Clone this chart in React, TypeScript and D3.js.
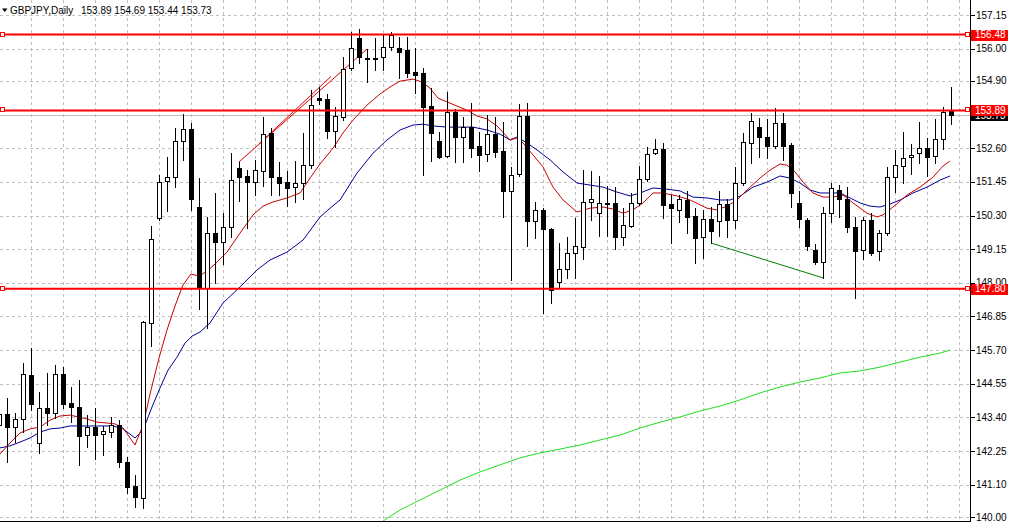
import React from 'react';
import * as d3 from 'd3';

const W = 1012;
const H = 522;
const PLOT_R = 970;
const PLOT_B = 521;

const symbolTitle = 'GBPJPY,Daily';

// bar numbers start at -1 (partially visible bar at the left edge)
const firstBar = -1;

const opens = [
  143.14, 143.51, 143.07, 143.34, 144.85, 142.53, 143.72, 143.55, 144.88, 143.89,
  143.75, 142.80, 143.07, 142.84, 142.90, 143.14, 141.88, 141.06, 140.65, 146.63,
  150.21, 151.48, 151.61, 152.85, 153.26, 150.59, 147.83, 149.70, 149.39, 149.91,
  151.92, 151.65, 151.44, 151.82, 153.12, 151.61, 151.44, 151.27, 151.41, 152.03,
  154.32, 154.28, 153.19, 153.66, 155.34, 156.36, 155.68, 155.68, 155.71, 156.06,
  156.02, 155.95, 155.20, 155.17, 154.04, 152.85, 152.33, 153.83, 152.98, 153.32,
  152.68, 152.40, 153.08, 152.51, 151.14, 151.72, 153.70, 150.11, 150.49, 149.84,
  148.03, 148.47, 149.02, 149.22, 150.76, 150.39, 150.73, 150.73, 149.56, 149.94,
  150.73, 151.55, 152.44, 152.57, 150.69, 150.49, 150.83, 150.28, 149.56, 150.18,
  150.11, 150.69, 150.15, 151.41, 152.78, 153.32, 152.98, 152.68, 153.46, 152.71,
  150.73, 150.15, 149.12, 148.71, 150.39, 151.17, 150.86, 149.91, 149.12, 150.15,
  149.09, 149.70, 151.61, 152.00, 152.30, 152.44, 152.61, 152.33, 152.91, 153.89,
];
const highs = [
  143.83, 144.07, 143.55, 145.26, 145.77, 144.27, 144.92, 145.19, 145.12, 144.44,
  144.68, 143.48, 143.72, 143.11, 143.41, 143.31, 142.05, 141.43, 146.70, 149.94,
  151.68, 152.30, 153.29, 153.77, 153.46, 151.58, 150.25, 151.07, 150.39, 152.43,
  152.13, 151.86, 152.20, 153.66, 153.29, 152.13, 151.82, 152.16, 153.12, 154.59,
  154.69, 154.45, 154.01, 155.71, 156.57, 156.67, 155.99, 156.36, 156.47, 156.57,
  156.40, 156.40, 156.02, 155.34, 154.66, 153.15, 154.52, 153.94, 153.66, 154.14,
  153.15, 153.73, 153.66, 153.49, 151.96, 154.11, 154.14, 150.76, 150.56, 149.87,
  149.36, 149.56, 150.21, 151.86, 151.82, 151.65, 151.31, 151.27, 150.56, 151.07,
  151.99, 152.64, 152.91, 152.78, 151.00, 151.00, 151.14, 150.56, 150.49, 150.59,
  151.14, 150.86, 151.96, 153.12, 153.80, 153.63, 153.60, 153.97, 153.80, 152.78,
  151.14, 150.21, 149.33, 150.59, 151.41, 151.34, 151.27, 150.25, 150.25, 150.39,
  149.81, 151.96, 152.54, 153.15, 152.74, 153.49, 152.95, 153.60, 154.01, 154.69,
];
const lows = [
  142.90, 141.88, 142.56, 142.90, 143.65, 142.19, 143.14, 143.38, 143.72, 143.24,
  141.78, 142.39, 141.98, 142.12, 142.73, 141.71, 140.82, 140.34, 140.31, 145.84,
  150.15, 150.45, 151.27, 152.20, 150.49, 147.11, 146.46, 147.99, 148.64, 149.56,
  150.80, 149.87, 151.00, 151.31, 151.00, 151.00, 150.62, 150.76, 150.86, 151.92,
  154.11, 152.95, 152.64, 153.56, 155.27, 155.51, 154.86, 155.27, 155.27, 155.95,
  155.00, 155.03, 154.48, 151.68, 152.16, 152.27, 152.30, 152.13, 152.13, 152.30,
  151.82, 152.16, 152.30, 150.25, 148.10, 151.65, 149.26, 149.53, 146.97, 147.31,
  147.86, 148.17, 148.17, 148.81, 150.15, 149.60, 149.60, 149.15, 149.29, 149.91,
  150.66, 151.48, 152.40, 150.21, 149.36, 150.08, 149.70, 148.68, 148.85, 149.36,
  149.60, 149.56, 149.87, 151.34, 152.09, 152.30, 152.27, 152.61, 152.20, 150.59,
  149.91, 149.12, 148.64, 148.17, 150.08, 150.25, 149.74, 147.48, 148.81, 148.95,
  148.78, 149.63, 151.10, 151.41, 151.72, 152.09, 151.65, 152.09, 152.57, 153.44,
];
const closes = [
  143.51, 143.07, 143.34, 144.88, 143.86, 143.72, 143.55, 144.88, 143.86, 143.75,
  142.77, 143.07, 142.80, 142.94, 143.14, 141.88, 141.03, 140.68, 146.66, 149.50,
  151.44, 151.61, 152.85, 153.26, 150.86, 147.83, 149.70, 149.39, 149.91, 151.51,
  151.61, 151.44, 151.86, 153.08, 151.61, 151.41, 151.24, 151.41, 152.03, 154.08,
  154.25, 153.19, 153.70, 155.30, 156.02, 155.71, 155.63, 155.63, 156.06, 156.47,
  155.89, 155.17, 155.10, 154.01, 153.12, 152.30, 153.83, 152.98, 153.32, 152.61,
  152.37, 153.08, 152.47, 151.14, 151.68, 153.70, 150.11, 150.49, 149.84, 147.76,
  148.47, 149.02, 149.26, 150.76, 150.86, 150.73, 150.69, 149.56, 149.97, 150.73,
  151.55, 152.40, 152.57, 150.66, 150.56, 150.86, 150.25, 149.53, 150.18, 149.77,
  150.69, 150.15, 151.41, 152.81, 153.53, 152.98, 152.68, 153.46, 152.68, 151.07,
  150.18, 149.26, 148.71, 150.39, 151.24, 150.86, 149.91, 149.09, 150.15, 149.02,
  149.70, 151.61, 152.03, 152.27, 152.37, 152.61, 152.30, 152.91, 153.83, 153.73,
];

const priceTicks = [157.15, 156.0, 154.9, 153.75, 152.6, 151.45, 150.3, 149.15, 148.0, 146.85, 145.7, 144.55, 143.4, 142.25, 141.1, 140.0];
const levelLines = [156.48, 153.89, 147.8];
const currentPrice = 153.73;

// moving averages: [bar, price]
const maFast: [number, number][] = [
  [-0.88, 142.15], [0.38, 142.53], [1.63, 142.87], [2.88, 143.01], [4.13, 143.07], [5.38, 143.31],
  [6.63, 143.45], [7.88, 143.48], [8.88, 143.42], [10.0, 143.35], [11.25, 143.24], [12.5, 143.21],
  [13.5, 143.18], [14.5, 143.04], [15.38, 142.7], [16.0, 142.46], [17.0, 143.14], [18.0, 144.34],
  [19.0, 145.43], [20.0, 146.39], [21.0, 147.21], [22.0, 147.93], [23.0, 148.3], [24.0, 148.23],
  [25.0, 148.4], [26.0, 148.64], [27.5, 149.05], [29.13, 149.7], [30.75, 150.32], [32.0, 150.62],
  [33.25, 150.76], [35.0, 150.9], [36.63, 151.07], [37.88, 151.58], [39.13, 152.06], [40.75, 152.6],
  [42.0, 153.12], [43.25, 153.56], [45.0, 154.07], [46.63, 154.45], [47.88, 154.69], [49.13, 154.89],
  [50.75, 154.96], [51.88, 154.86], [52.88, 154.65], [53.88, 154.31], [55.0, 154.18], [56.25, 154.04],
  [57.5, 153.9], [58.75, 153.7], [60.0, 153.6], [61.25, 153.36], [62.88, 152.88], [63.75, 152.95],
  [64.5, 152.78], [65.75, 152.37], [67.0, 151.96], [68.25, 151.27], [69.5, 150.83], [71.25, 150.42],
  [72.88, 150.55], [74.5, 150.59], [75.75, 150.52], [77.0, 150.38], [78.25, 150.49], [79.5, 150.73],
  [80.75, 151.07], [82.0, 151.07], [83.75, 150.97], [85.38, 150.83], [87.5, 150.55], [88.75, 150.49],
  [90.0, 150.62], [91.25, 150.83], [92.5, 151.17], [94.13, 151.58], [95.38, 151.85], [96.63, 152.06],
  [97.5, 152.02], [98.5, 151.79], [99.5, 151.44], [100.75, 151.07], [102.0, 150.93], [103.25, 150.93],
  [104.5, 151.0], [105.75, 150.73], [107.5, 150.38], [108.75, 150.25], [109.5, 150.32], [110.75, 150.59],
  [112.5, 151.0], [114.13, 151.27], [115.75, 151.61], [117.0, 151.99], [117.88, 152.16],
];
const maSlow: [number, number][] = [
  [-0.88, 142.36], [0.38, 142.43], [1.63, 142.56], [2.88, 142.7], [4.13, 142.9], [5.38, 143.01],
  [6.63, 143.04], [7.88, 143.11], [9.13, 143.11], [11.63, 143.11], [13.25, 143.11], [14.5, 143.01],
  [16.0, 142.7], [17.0, 142.97], [18.13, 143.76], [19.13, 144.41], [20.13, 145.02], [21.25, 145.46],
  [22.25, 145.94], [23.13, 146.18], [24.13, 146.32], [25.38, 146.63], [27.0, 147.31], [29.13, 147.86],
  [31.25, 148.44], [32.88, 148.78], [35.0, 149.05], [37.0, 149.46], [39.13, 150.25], [40.38, 150.55],
  [41.63, 150.83], [43.75, 151.75], [45.75, 152.43], [47.5, 152.88], [49.13, 153.22], [50.75, 153.39],
  [52.0, 153.42], [53.25, 153.36], [55.0, 153.32], [56.63, 153.32], [58.25, 153.32], [60.0, 153.22],
  [61.63, 153.08], [62.88, 152.88], [63.75, 152.98], [65.0, 152.78], [66.25, 152.54], [67.88, 152.2],
  [69.5, 151.79], [71.25, 151.41], [72.88, 151.34], [74.5, 151.27], [76.25, 151.1], [77.88, 150.97],
  [79.13, 151.07], [80.75, 151.24], [82.5, 151.2], [84.13, 151.14], [85.75, 150.93], [87.5, 150.9],
  [89.13, 150.83], [90.38, 150.83], [91.63, 150.96], [93.25, 151.27], [95.0, 151.44], [96.63, 151.65],
  [97.88, 151.58], [99.13, 151.41], [100.38, 151.17], [101.63, 151.07], [104.13, 151.07], [105.38, 150.9],
  [106.63, 150.73], [107.88, 150.62], [109.13, 150.59], [110.38, 150.69], [111.63, 150.83], [113.25, 151.07],
  [115.0, 151.27], [116.63, 151.51], [117.88, 151.65],
];
const maLong: [number, number][] = [
  [47.0, 139.86], [49.13, 140.24], [51.63, 140.58], [54.13, 140.92], [56.63, 141.26], [59.13, 141.54],
  [61.63, 141.78], [64.13, 142.02], [66.63, 142.19], [69.13, 142.32], [71.63, 142.46], [74.13, 142.63],
  [76.63, 142.8], [79.13, 143.04], [81.63, 143.24], [84.13, 143.42], [86.63, 143.62], [89.13, 143.79],
  [91.63, 144.0], [94.13, 144.24], [96.63, 144.44], [99.13, 144.61], [101.63, 144.75], [104.13, 144.92],
  [106.63, 144.99], [109.13, 145.12], [111.63, 145.29], [114.13, 145.46], [116.63, 145.6], [117.88, 145.7],
];

// hand-drawn trend lines: [bar, price] pairs
const redTrendA: [number, number][] = [[29, 152.13], [45, 155.99]];
const redTrendB: [number, number][] = [[31.5, 152.75], [40.5, 155.05]];
const greenTrend: [number, number][] = [[88, 149.36], [102, 148.17]];

const FONT = '"Liberation Sans", Arial, sans-serif';

export default function App() {
  const x = d3.scaleLinear().domain([-1, 118]).range([-1, 951]);
  const y = d3.scaleLinear().domain([140, 157.15]).range([517, 15]);
  const px = (v: number) => Math.round(v) + 0.5;

  const line = d3
    .line<[number, number]>()
    .x((d) => x(d[0]))
    .y((d) => y(d[1]));

  const gridBars = d3.range(3, 120, 4);

  const candles = opens.map((o, i) => {
    const bar = firstBar + i;
    const c = closes[i];
    const xc = px(x(bar));
    const top = Math.round(y(Math.max(o, c)));
    const bot = Math.round(y(Math.min(o, c)));
    const bull = c >= o;
    return { bar, xc, top, bot, bull, hi: Math.round(y(highs[i])), lo: Math.round(y(lows[i])) };
  });

  const last = opens.length - 1;
  const titleNums = [opens[last], highs[last], lows[last], closes[last]].map((v) => v.toFixed(2)).join(' ');

  return (
    <svg
      width={W}
      height={H}
      viewBox={`0 0 ${W} ${H}`}
      style={{ position: 'absolute', left: 0, top: 0, background: '#fff', display: 'block' }}
      fontFamily={FONT}
    >
      <defs>
        <clipPath id="plot">
          <rect x={0} y={0} width={PLOT_R} height={PLOT_B} />
        </clipPath>
      </defs>
      <rect x={0} y={0} width={W} height={H} fill="#fff" />
      {/* grid */}
      <g stroke="#c0c0c0" strokeWidth={1} strokeDasharray="3,3" shapeRendering="crispEdges">
        {priceTicks.map((t) => (
          <line key={'h' + t} x1={0} x2={PLOT_R} y1={px(y(t))} y2={px(y(t))} />
        ))}
        {gridBars.map((b) => (
          <line key={'v' + b} x1={px(x(b))} x2={px(x(b))} y1={0} y2={PLOT_B} />
        ))}
      </g>
      <g clipPath="url(#plot)">
        {/* current price line */}
        <line x1={0} x2={PLOT_R} y1={px(y(currentPrice))} y2={px(y(currentPrice))} stroke="#c0c0c0" strokeWidth={1} shapeRendering="crispEdges" />
        {/* moving averages */}
        <path d={line(maLong) || ''} fill="none" stroke="#22dd22" strokeWidth={1} />
        <path d={line(maSlow) || ''} fill="none" stroke="#000099" strokeWidth={1} />
        <path d={line(maFast) || ''} fill="none" stroke="#cc0000" strokeWidth={1} />
        {/* trend lines */}
        <path d={line(redTrendA) || ''} fill="none" stroke="#e00000" strokeWidth={1} />
        <path d={line(redTrendB) || ''} fill="none" stroke="#e00000" strokeWidth={1} />
        <path d={line(greenTrend) || ''} fill="none" stroke="#008000" strokeWidth={1} />
        {/* candles */}
        <g shapeRendering="crispEdges">
          {candles.map((c) => (
            <g key={c.bar}>
              <line x1={c.xc} x2={c.xc} y1={c.hi} y2={c.lo + 1} stroke="#000" strokeWidth={1} />
              {c.bot - c.top < 1 ? (
                <line x1={c.xc - 2.5} x2={c.xc + 2.5} y1={c.top + 0.5} y2={c.top + 0.5} stroke="#000" strokeWidth={1} />
              ) : (
                <rect
                  x={c.xc - 2}
                  y={c.top + 0.5}
                  width={4}
                  height={c.bot - c.top}
                  fill={c.bull ? '#fff' : '#000'}
                  stroke="#000"
                  strokeWidth={1}
                />
              )}
            </g>
          ))}
        </g>
        {/* horizontal levels */}
        {levelLines.map((l) => (
          <g key={'lv' + l}>
            <line x1={0} x2={PLOT_R} y1={y(l)} y2={y(l)} stroke="#ff0000" strokeWidth={2} />
            <rect x={0.5} y={Math.round(y(l)) - 2.5} width={4} height={4} fill="#fff" stroke="#ff0000" strokeWidth={1} shapeRendering="crispEdges" />
            <rect x={965.5} y={Math.round(y(l)) - 2.5} width={4} height={4} fill="#fff" stroke="#ff0000" strokeWidth={1} shapeRendering="crispEdges" />
          </g>
        ))}
      </g>
      {/* title */}
      <path d="M2,8.5 L7.5,8.5 L4.75,12 Z" fill="#000" />
      <text x={10} y={13.5} fontSize={10} fill="#000">{symbolTitle}</text>
      <text x={81} y={13.5} fontSize={10} fill="#000" style={{ whiteSpace: 'pre' }}>{titleNums}</text>
      {/* axis frame */}
      <line x1={PLOT_R + 0.5} x2={PLOT_R + 0.5} y1={0} y2={PLOT_B + 1} stroke="#000" strokeWidth={1} shapeRendering="crispEdges" />
      <line x1={0} x2={PLOT_R + 1} y1={PLOT_B + 0.5} y2={PLOT_B + 0.5} stroke="#000" strokeWidth={1} shapeRendering="crispEdges" />
      {/* price axis */}
      {priceTicks.map((t) => (
        <g key={'t' + t}>
          <line x1={PLOT_R + 1} x2={PLOT_R + 5} y1={px(y(t))} y2={px(y(t))} stroke="#000" shapeRendering="crispEdges" />
          <text x={976} y={y(t) + 3.5} fontSize={10} fill="#000">{t.toFixed(2)}</text>
        </g>
      ))}
      {/* current price label */}
      <rect x={971} y={Math.round(y(currentPrice)) - 5} width={37} height={11} fill="#000" />
      <text x={975} y={y(currentPrice) + 3.5} fontSize={10} fill="#fff">{currentPrice.toFixed(2)}</text>
      {levelLines.map((l) => (
        <g key={'ll' + l}>
          <rect x={971} y={Math.round(y(l)) - 5} width={37} height={11} fill="#ff0000" />
          <text x={975} y={y(l) + 3.5} fontSize={10} fill="#fff">{l.toFixed(2)}</text>
        </g>
      ))}
    </svg>
  );
}
